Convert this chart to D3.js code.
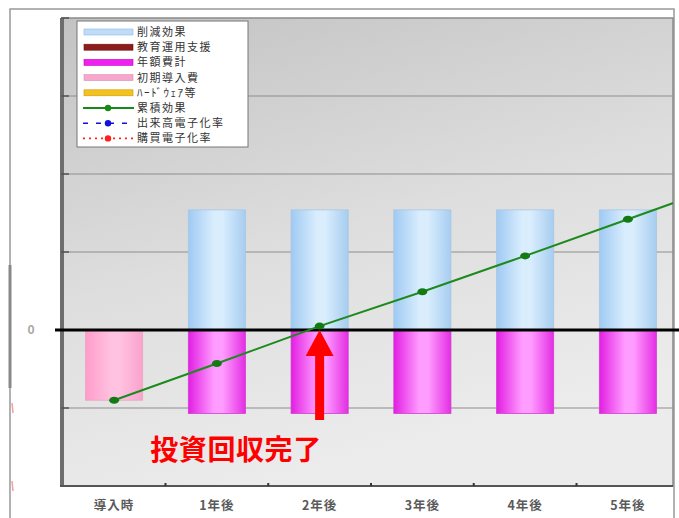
<!DOCTYPE html>
<html>
<head>
<meta charset="utf-8">
<script src="https://cdn.jsdelivr.net/npm/d3@7/dist/d3.min.js"></script>
<style>
  html, body { margin: 0; padding: 0; background: #fff; }
  svg { display: block; font-family: "Noto Sans CJK JP", "Noto Sans", sans-serif; }
</style>
</head>
<body>
<div id="chart"></div>
<script>
// ---- data ----------------------------------------------------------------
const categories = ['導入時', '1年後', '2年後', '3年後', '4年後', '5年後'];
const reduction   = [0, 1.54, 1.54, 1.54, 1.54, 1.54];        // 削減効果
const annualCost  = [0, -1.07, -1.07, -1.07, -1.07, -1.07];   // 年額費計
const initialCost = [-0.9, 0, 0, 0, 0, 0];                    // 初期導入費
// 累積効果 (last point lies past the plot edge and is clipped)
const cumulative  = [-0.9, -0.43, 0.05, 0.49, 0.95, 1.42, 1.89];
const yTicks = [-2, -1, 0, 1, 2, 3, 4];
const legendItems = [
  { name: '削減効果', kind: 'bar', color: '#bcdcfa', stroke: '#8fb8e0' },
  { name: '教育運用支援', kind: 'bar', color: '#8e1c1c', stroke: '#6e1010' },
  { name: '年額費計', kind: 'bar', color: '#f020f0', stroke: '#c000c0' },
  { name: '初期導入費', kind: 'bar', color: '#f7a6cc', stroke: '#d890b0' },
  { name: 'ﾊｰﾄﾞｳｪｱ等', kind: 'bar', color: '#f3c21e', stroke: '#c89a10' },
  { name: '累積効果', kind: 'line', color: '#168a16', dash: null },
  { name: '出来高電子化率', kind: 'line', color: '#1010e0', dash: '5,8' },
  { name: '購買電子化率', kind: 'line', color: '#ff2020', dash: '2,4' }
];

// ---- layout --------------------------------------------------------------
const W = 679, H = 518;
const plot = { left: 63, right: 673, top: 18, bottom: 486 };

const svg = d3.select('#chart').append('svg')
  .attr('width', W).attr('height', H);

const defs = svg.append('defs');

const bg = defs.append('linearGradient').attr('id', 'bg')
  .attr('x1', 0).attr('y1', 0).attr('x2', 0.35).attr('y2', 1);
bg.append('stop').attr('offset', '0%').attr('stop-color', '#c3c3c3');
bg.append('stop').attr('offset', '55%').attr('stop-color', '#dedede');
bg.append('stop').attr('offset', '100%').attr('stop-color', '#ececec');

function barGrad(id, edgeL, mid, edgeR) {
  const g = defs.append('linearGradient').attr('id', id)
    .attr('x1', 0).attr('y1', 0).attr('x2', 1).attr('y2', 0);
  g.append('stop').attr('offset', '0%').attr('stop-color', edgeL);
  g.append('stop').attr('offset', '45%').attr('stop-color', mid);
  g.append('stop').attr('offset', '60%').attr('stop-color', mid);
  g.append('stop').attr('offset', '100%').attr('stop-color', edgeR);
}
barGrad('gBlue', '#9fcaf3', '#d9edfd', '#a6cdf0');
barGrad('gMag', '#e21ee2', '#ff9cff', '#e42ee4');
barGrad('gPink', '#ff9cc9', '#ffc2e0', '#f9a2cc');

defs.append('clipPath').attr('id', 'plotClip')
  .append('rect')
  .attr('x', plot.left).attr('y', plot.top)
  .attr('width', plot.right - plot.left).attr('height', plot.bottom - plot.top);

// ---- scales --------------------------------------------------------------
const x = d3.scaleBand().domain(categories)
  .range([plot.left + 2, plot.right + 4]).paddingInner(0.444).paddingOuter(0.2);
const y = d3.scaleLinear().domain([-2, 4]).range([plot.bottom, plot.top]);
const cx = i => x(categories[0]) + x.bandwidth() / 2 + i * x.step();

// ---- outer frame ---------------------------------------------------------
svg.append('rect').attr('x', 10).attr('y', 9).attr('width', 664).attr('height', 520)
  .attr('fill', '#fff').attr('stroke', '#999').attr('stroke-width', 1.5);
svg.append('line').attr('x1', 10).attr('x2', 10).attr('y1', 265).attr('y2', 388)
  .attr('stroke', '#888').attr('stroke-width', 3);
// clipped secondary axis marks
[-1, -2].forEach(v => {
  svg.append('line').attr('x1', 12).attr('x2', 13).attr('y1', y(v) - 5).attr('y2', y(v) + 5)
    .attr('stroke', '#f2a0a0').attr('stroke-width', 1.5);
});

// ---- plot background -----------------------------------------------------
svg.append('rect')
  .attr('x', plot.left).attr('y', plot.top)
  .attr('width', plot.right - plot.left).attr('height', plot.bottom - plot.top)
  .attr('fill', 'url(#bg)').attr('stroke', '#8a8a8a').attr('stroke-width', 1.5);

// gridlines
svg.append('g').selectAll('line')
  .data(yTicks.filter(v => v !== 0 && v > -2 && v < 4))
  .join('line')
  .attr('x1', plot.left).attr('x2', plot.right)
  .attr('y1', d => y(d)).attr('y2', d => y(d))
  .attr('stroke', '#8e8e8e').attr('stroke-width', 1.2);

// left wall / axis
svg.append('rect').attr('x', plot.left - 3).attr('y', plot.top)
  .attr('width', 4).attr('height', plot.bottom - plot.top)
  .attr('fill', '#6e6e6e');
svg.append('g').selectAll('line')
  .data(yTicks)
  .join('line')
  .attr('x1', plot.left - 2).attr('x2', plot.left + 6)
  .attr('y1', d => y(d)).attr('y2', d => y(d))
  .attr('stroke', '#555').attr('stroke-width', 1.5);

// bottom axis
svg.append('line').attr('x1', plot.left - 3).attr('x2', plot.right)
  .attr('y1', plot.bottom).attr('y2', plot.bottom)
  .attr('stroke', '#555').attr('stroke-width', 2);
svg.append('g').selectAll('line')
  .data(categories.slice(1))
  .join('line')
  .attr('x1', d => x(d) - x.step() * x.paddingInner() / 2)
  .attr('x2', d => x(d) - x.step() * x.paddingInner() / 2)
  .attr('y1', plot.bottom - 3).attr('y2', plot.bottom)
  .attr('stroke', '#333').attr('stroke-width', 2);

// ---- bars ----------------------------------------------------------------
const bars = svg.append('g');
function drawBars(values, fill, stroke) {
  bars.append('g').selectAll('rect')
    .data(values.map((v, i) => ({ v, c: categories[i] })).filter(d => d.v !== 0))
    .join('rect')
    .attr('x', d => x(d.c)).attr('width', x.bandwidth())
    .attr('y', d => y(Math.max(0, d.v)))
    .attr('height', d => Math.abs(y(d.v) - y(0)))
    .attr('fill', fill).attr('stroke', stroke).attr('stroke-width', 0.8);
}
drawBars(reduction, 'url(#gBlue)', '#a9c6e2');
drawBars(annualCost, 'url(#gMag)', '#d040d0');
drawBars(initialCost, 'url(#gPink)', '#e8a6c4');

// zero line
svg.append('line').attr('x1', 55).attr('x2', W)
  .attr('y1', y(0)).attr('y2', y(0))
  .attr('stroke', '#000').attr('stroke-width', 3);

// ---- cumulative line -----------------------------------------------------
const lineG = svg.append('g').attr('clip-path', 'url(#plotClip)');
lineG.append('path')
  .datum(cumulative)
  .attr('d', d3.line().x((d, i) => cx(i)).y(d => y(d)))
  .attr('fill', 'none').attr('stroke', '#1c8a1c').attr('stroke-width', 2);
lineG.selectAll('ellipse')
  .data(cumulative)
  .join('ellipse')
  .attr('cx', (d, i) => cx(i)).attr('cy', d => y(d))
  .attr('rx', 5).attr('ry', 3.5)
  .attr('fill', '#147a14');

// ---- annotation ----------------------------------------------------------
const ax = cx(2);
svg.append('path')
  .attr('d', `M${ax},${y(0)} L${ax + 14},${y(0) + 26} L${ax + 4.5},${y(0) + 26} L${ax + 4.5},${y(0) + 90} L${ax - 4.5},${y(0) + 90} L${ax - 4.5},${y(0) + 26} L${ax - 14},${y(0) + 26} Z`)
  .attr('fill', '#ff0000');
svg.append('text')
  .attr('x', 236).attr('y', 460)
  .attr('text-anchor', 'middle')
  .attr('font-size', 28).attr('font-weight', 'bold')
  .attr('letter-spacing', 0.6)
  .attr('fill', '#ff0000')
  .text('投資回収完了');

// ---- axis labels ---------------------------------------------------------
svg.append('g').selectAll('text')
  .data(categories)
  .join('text')
  .attr('x', d => x(d) + x.bandwidth() / 2)
  .attr('y', 510)
  .attr('text-anchor', 'middle')
  .attr('font-size', 12.5).attr('font-weight', 'bold')
  .attr('letter-spacing', 1)
  .attr('fill', '#5a5a5a')
  .text(d => d);
svg.append('text').attr('x', 31).attr('y', y(0) + 4)
  .attr('text-anchor', 'middle').attr('font-size', 12).attr('font-weight', 'bold')
  .attr('fill', '#a8a8a8').text('0');

// ---- legend --------------------------------------------------------------
const lg = svg.append('g').attr('transform', 'translate(77,21)');
lg.append('rect').attr('width', 171).attr('height', 126)
  .attr('fill', '#fff').attr('stroke', '#777').attr('stroke-width', 1);
const rows = lg.selectAll('g.row')
  .data(legendItems)
  .join('g').attr('class', 'row')
  .attr('transform', (d, i) => `translate(0,${11 + i * 15.2})`);
rows.filter(d => d.kind === 'bar').append('rect')
  .attr('x', 7).attr('y', -3).attr('width', 49).attr('height', 6)
  .attr('fill', d => d.color).attr('stroke', d => d.stroke).attr('stroke-width', 0.6);
rows.filter(d => d.kind === 'line').append('line')
  .attr('x1', 6).attr('x2', 57).attr('y1', 0).attr('y2', 0)
  .attr('stroke', d => d.color).attr('stroke-width', d => d.dash ? 1.6 : 2.2)
  .attr('stroke-dasharray', d => d.dash);
rows.filter(d => d.kind === 'line').append('circle')
  .attr('cx', 31).attr('cy', 0).attr('r', 3.2)
  .attr('fill', d => d.color);
rows.append('text')
  .attr('x', 60).attr('y', 4)
  .attr('font-size', 11).attr('letter-spacing', 1.5)
  .attr('fill', '#333')
  .text(d => d.name);
</script>
</body>
</html>
